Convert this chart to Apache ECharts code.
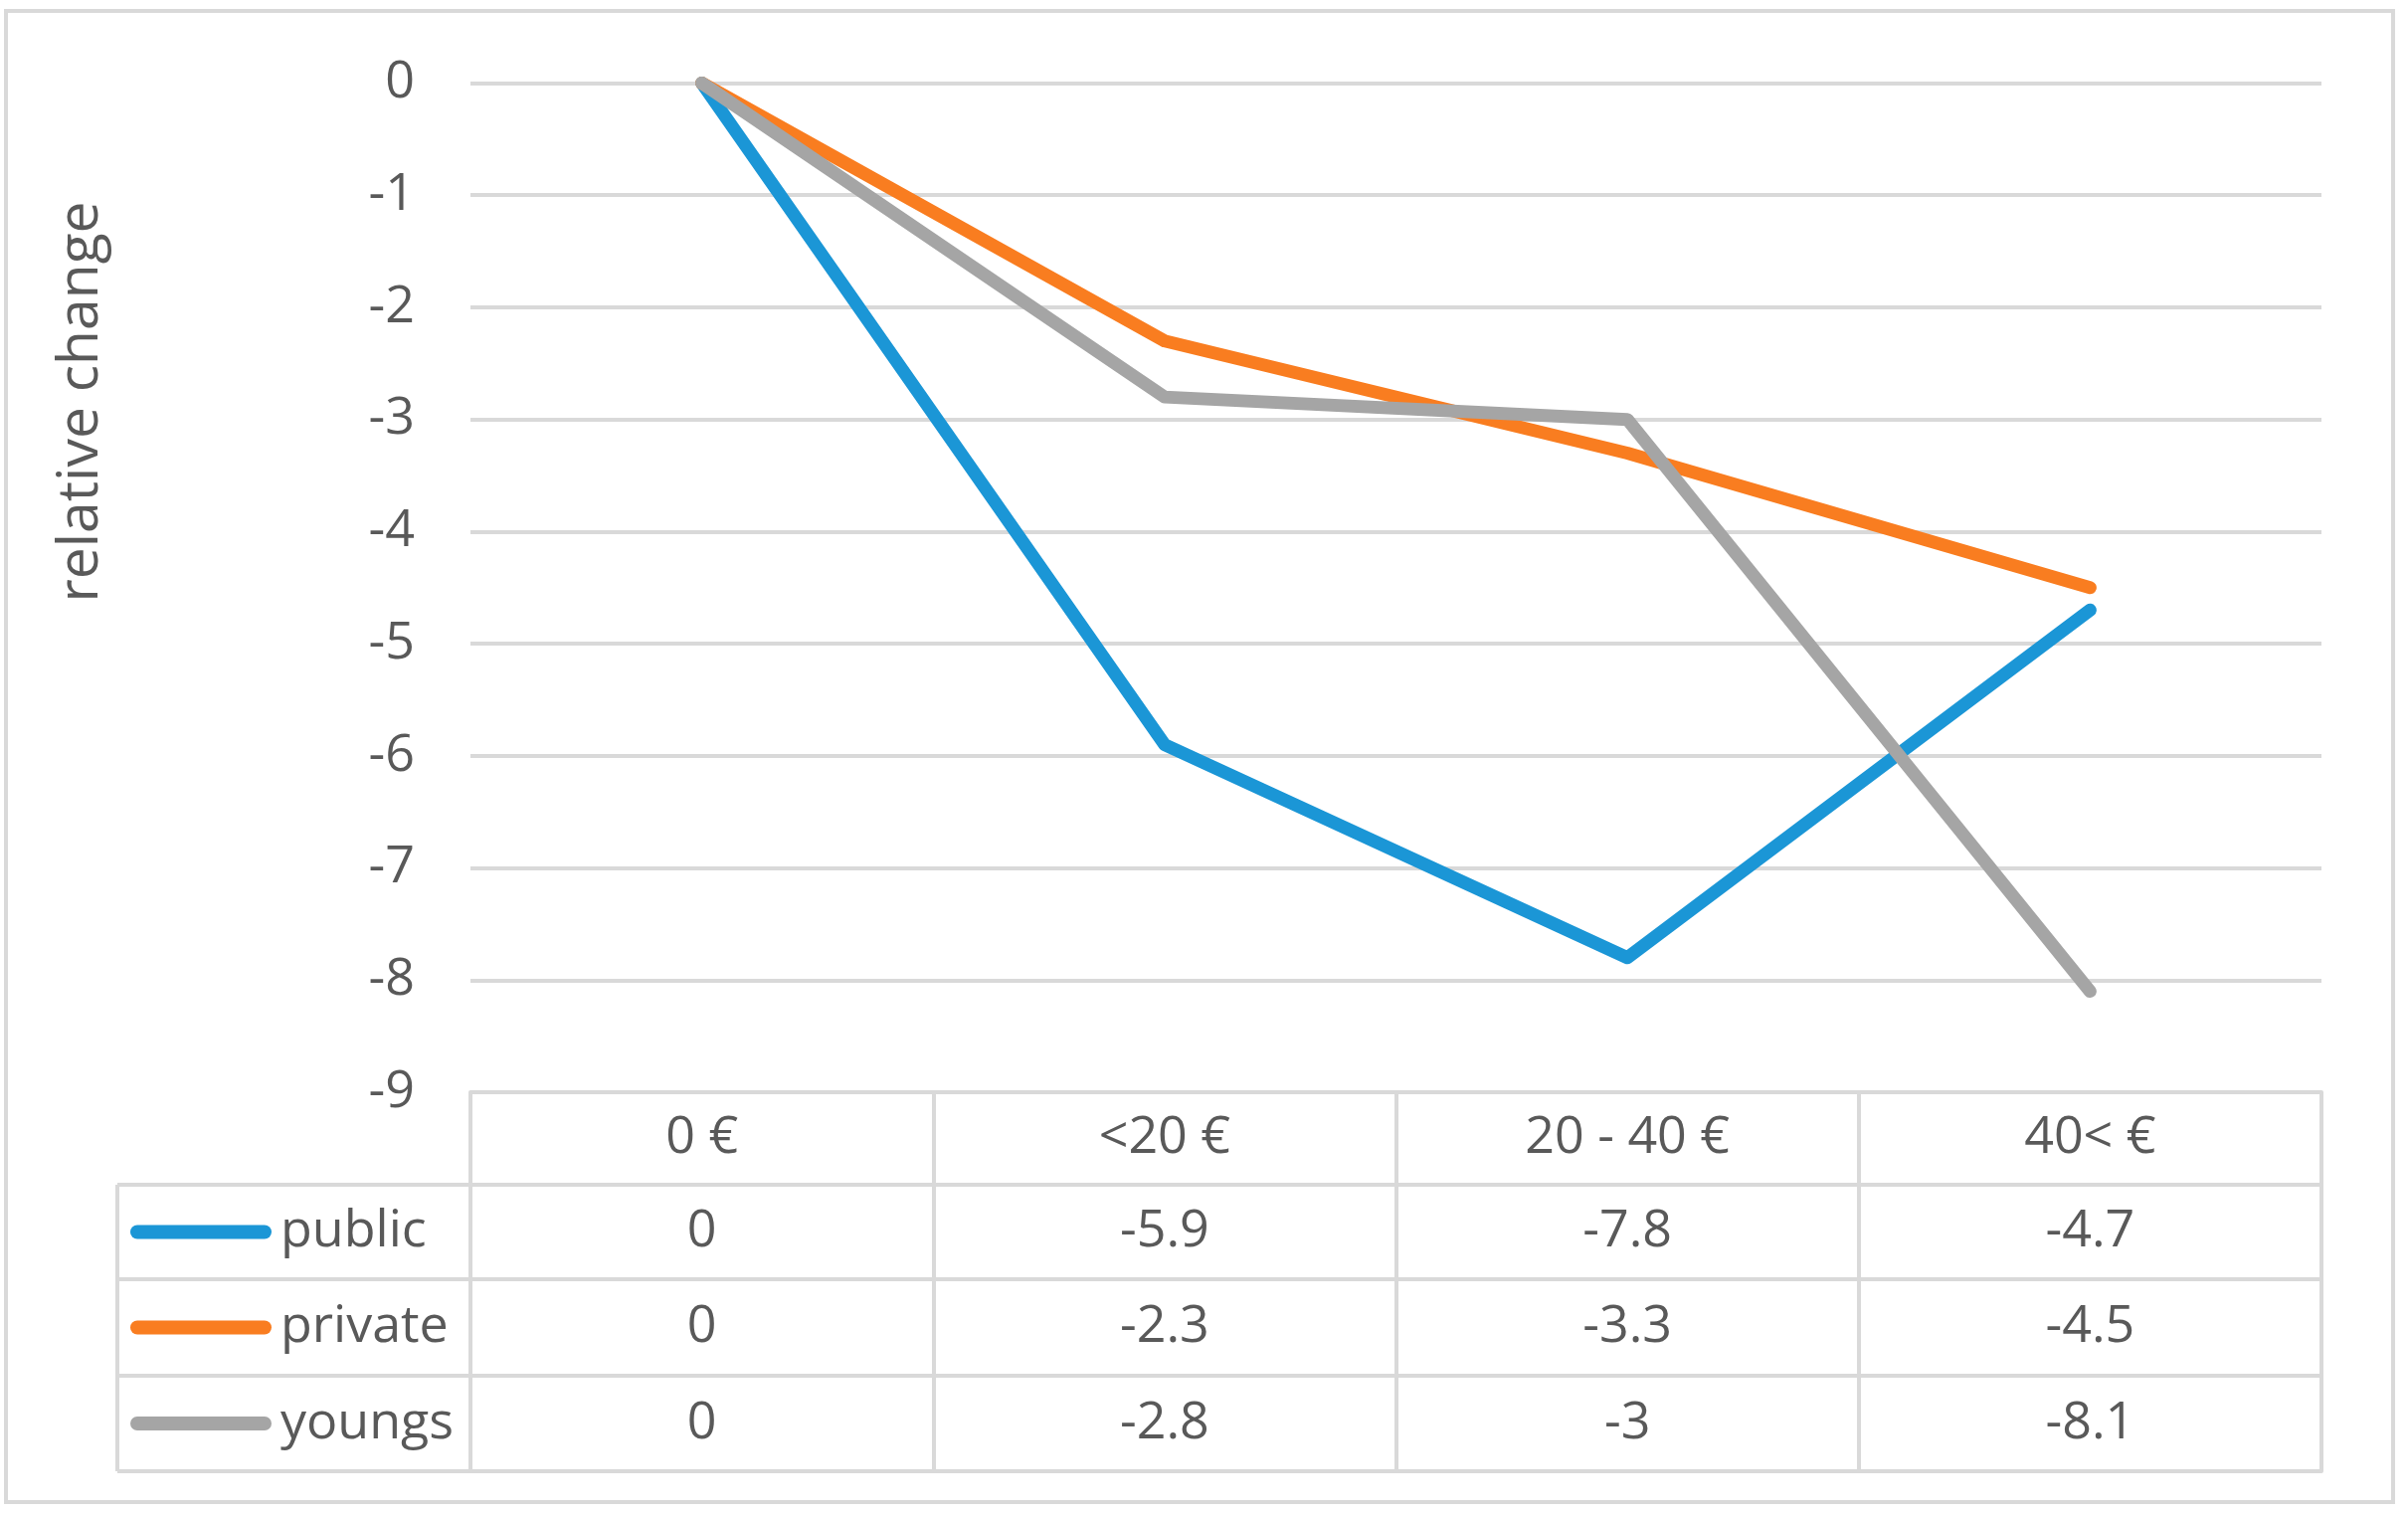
<!DOCTYPE html>
<html><head><meta charset="utf-8">
<script src="https://cdn.jsdelivr.net/npm/echarts@6/dist/echarts.min.js"></script>
<style>html,body{margin:0;padding:0;background:#fff}#main{width:2421px;height:1523px}</style>
</head><body><div id="main"></div>
<script>
// ---- data ----
const categories = ['0 €', '<20 €', '20 - 40 €', '40< €'];
const seriesNames = ['public', 'private', 'youngs'];
const publicValues = [0, -5.9, -7.8, -4.7];
const privateValues = [0, -2.3, -3.3, -4.5];
const youngsValues = [0, -2.8, -3, -8.1];
const yAxisTitle = 'relative change';
const yMin = -9, yMax = 0, yStep = 1;

// ---- styles / layout ----
const seriesValues = [publicValues, privateValues, youngsValues];
const colors = ['#1b96d6', '#f97d20', '#a5a5a5'];
const textColor = '#595959';
const lineColor = '#d9d9d9';
const font = 'Open Sans';
const fw = 400;
const fs = 52;
const W = 2421, H = 1523;
const plotLeft = 473, plotRight = 2334, plotTop = 83.5, plotBottom = 1098;
const tableLeft = 118;
const rowEdges = [0, 93, 188, 285, 381]; // offsets below plot bottom
const lh = 60;
const gw = 4;

const xAxes = [];
// header row with categories
xAxes.push({
  type: 'category', data: categories, gridIndex: 0, position: 'bottom', offset: 0,
  boundaryGap: true,
  axisLine: { show: true, onZero: false, lineStyle: { color: lineColor, width: gw } },
  axisTick: { show: true, length: rowEdges[1], interval: 0, lineStyle: { color: lineColor, width: gw } },
  axisLabel: { show: true, interval: 0, color: textColor, fontFamily: font, fontWeight: fw, fontSize: fs, lineHeight: lh,
    margin: (rowEdges[1] - lh) / 2 },
  splitLine: { show: false }
});
for (let k = 0; k < seriesValues.length; k++) {
  const top = rowEdges[k + 1], h = rowEdges[k + 2] - rowEdges[k + 1];
  xAxes.push({
    type: 'category', data: categories, gridIndex: 0, position: 'bottom', offset: top,
    boundaryGap: true,
    axisLine: { show: true, onZero: false, lineStyle: { color: lineColor, width: gw } },
    axisTick: { show: true, length: h, interval: 0, lineStyle: { color: lineColor, width: gw } },
    axisLabel: { show: true, interval: 0, color: textColor, fontFamily: font, fontWeight: fw, fontSize: fs, lineHeight: lh,
      margin: (h - lh) / 2, formatter: (v, i) => String(seriesValues[k][i]) },
    splitLine: { show: false }
  });
}
// closing line
xAxes.push({
  type: 'category', data: categories, gridIndex: 0, position: 'bottom', offset: rowEdges[4],
  axisLine: { show: true, onZero: false, lineStyle: { color: lineColor, width: gw } },
  axisTick: { show: false }, axisLabel: { show: false }, splitLine: { show: false }
});

const legends = seriesNames.map((n, k) => {
  const cy = plotBottom + (rowEdges[k + 1] + rowEdges[k + 2]) / 2;
  return {
    data: [n], left: 131, top: cy - lh / 2, orient: 'horizontal', selectedMode: false,
    icon: 'path://M7,0H135A7,7,0,0,1,135,14H7A7,7,0,0,1,7,0Z',
    itemWidth: 142, itemHeight: 14, padding: 0,
    itemStyle: { borderWidth: 0 },
    textStyle: { color: textColor, fontFamily: font, fontWeight: fw, fontSize: fs, lineHeight: lh, padding: [0, 0, 0, 4] }
  };
});

const graphics = [
  { type: 'rect', shape: { x: 6, y: 11, width: 2400, height: 1499 }, style: { fill: 'none', stroke: lineColor, lineWidth: 4 }, silent: true },
  { type: 'line', shape: { x1: tableLeft, y1: plotBottom + rowEdges[1], x2: tableLeft, y2: plotBottom + rowEdges[4] }, style: { stroke: lineColor, lineWidth: gw } },
  { type: 'text', x: 82, y: 404, rotation: Math.PI / 2,
    style: { text: yAxisTitle, fill: textColor, fontFamily: font, fontWeight: fw, fontSize: 57, textAlign: 'center', textVerticalAlign: 'middle' } }
];
for (let r = 1; r <= 4; r++) {
  graphics.push({ type: 'line', shape: { x1: tableLeft, y1: plotBottom + rowEdges[r], x2: plotLeft, y2: plotBottom + rowEdges[r] },
    style: { stroke: lineColor, lineWidth: gw } });
}

const chart = echarts.init(document.getElementById('main'), null, { renderer: 'canvas' });
chart.setOption({
  animation: false,
  backgroundColor: '#fff',
  grid: { left: plotLeft, right: W - plotRight, top: plotTop, bottom: H - plotBottom, outerBoundsMode: 'none', containLabel: false },
  xAxis: xAxes,
  yAxis: {
    type: 'value', min: yMin, max: yMax, interval: yStep,
    axisLine: { show: false }, axisTick: { show: false },
    axisLabel: { color: textColor, fontFamily: font, fontWeight: fw, fontSize: fs, margin: 56 },
    splitLine: { show: true, lineStyle: { color: lineColor, width: gw } }
  },
  legend: legends,
  graphic: graphics,
  series: seriesNames.map((n, k) => ({
    name: n, type: 'line', data: seriesValues[k], xAxisIndex: 0, yAxisIndex: 0,
    showSymbol: false, symbol: 'none',
    color: colors[k],
    lineStyle: { color: colors[k], width: 13, cap: 'round', join: 'round' },
    itemStyle: { color: colors[k] }
  }))
});
</script></body></html>
